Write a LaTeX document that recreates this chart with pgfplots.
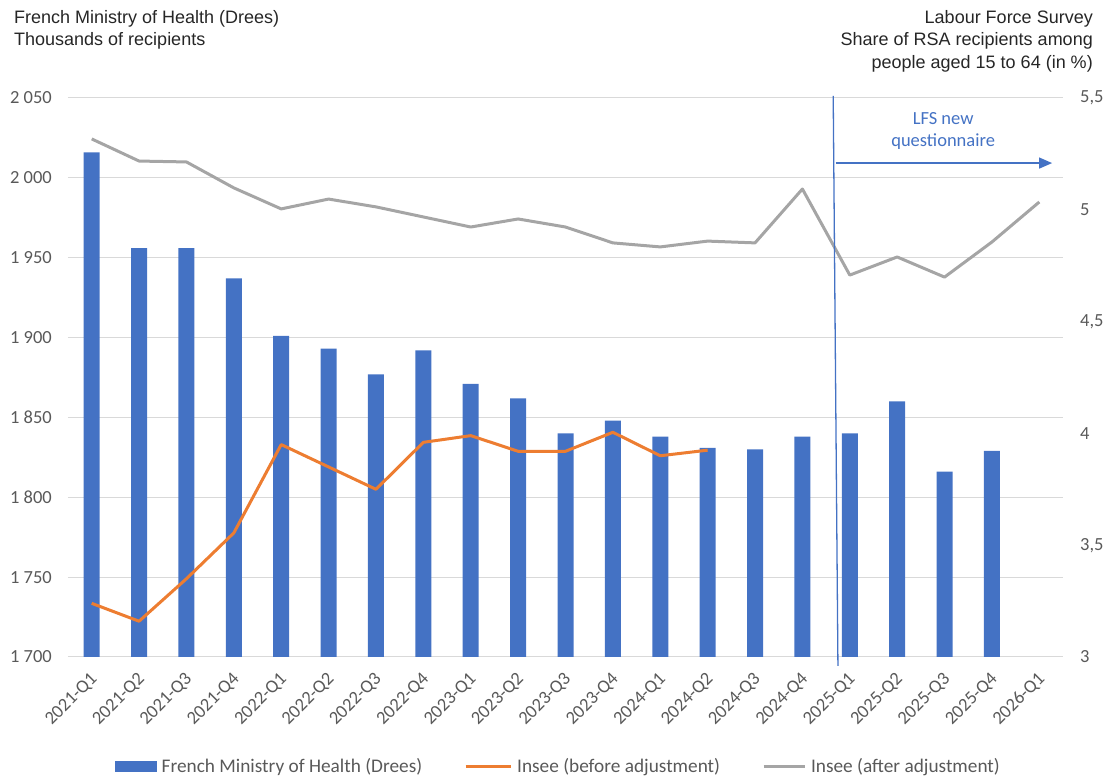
\documentclass[border=0pt]{standalone}
\usepackage{pgfplots}
\pgfplotsset{compat=1.18}
\usepackage{pgfplotstable}
\usepackage{fontspec}
\setmainfont{Carlito}
\newfontfamily\arialf{Liberation Sans}
\usetikzlibrary{arrows.meta}
\definecolor{barblue}{HTML}{4472C4}
\definecolor{lineorange}{HTML}{ED7D31}
\definecolor{linegray}{HTML}{A5A5A5}
\definecolor{gridgray}{HTML}{D9D9D9}
\definecolor{tickgray}{HTML}{595959}
\definecolor{titlecol}{HTML}{262626}

\pgfplotstableread{
x y
0 2016
1 1956
2 1956
3 1937
4 1901
5 1893
6 1877
7 1892
8 1871
9 1862
10 1840
11 1848
12 1838
13 1831
14 1830
15 1838
16 1840
17 1860
18 1816
19 1829
}\drees

\pgfplotstableread{
x y
0 3.24
1 3.16
2 3.35
3 3.555
4 3.95
5 3.85
6 3.75
7 3.96
8 3.99
9 3.92
10 3.92
11 4.005
12 3.90
13 3.925
}\before

\pgfplotstableread{
x y
0 5.317
1 5.218
2 5.214
3 5.098
4 5.004
5 5.048
6 5.013
7 4.968
8 4.923
9 4.959
10 4.923
11 4.852
12 4.834
13 4.860
14 4.852
15 5.093
16 4.708
17 4.789
18 4.699
19 4.856
20 5.035
}\after

\begin{document}
\begin{tikzpicture}
\pgfplotsset{
  common/.style={
    scale only axis, width=995pt, height=559pt,
    xmin=-0.5, xmax=20.5,
    major tick length=0pt,
    tick style={draw=none},
    axis line style={draw=none},
    tick label style={font=\fontsize{18.5}{22}\selectfont, text=tickgray},
  }
}
\begin{axis}[common,
  axis x line*=bottom, axis y line*=left,
  ymin=1700, ymax=2050,
  ytick={1700,1750,1800,1850,1900,1950,2000,2050},
  yticklabels={1 700,1 750,1 800,1 850,1 900,1 950,2 000,2 050},
  yticklabel style={anchor=east, inner sep=0pt, xshift=-16pt},
  ymajorgrids, grid style={draw=gridgray, line width=1pt},
  xtick={0,...,20},
  xticklabels={2021-Q1,2021-Q2,2021-Q3,2021-Q4,2022-Q1,2022-Q2,2022-Q3,2022-Q4,2023-Q1,2023-Q2,2023-Q3,2023-Q4,2024-Q1,2024-Q2,2024-Q3,2024-Q4,2025-Q1,2025-Q2,2025-Q3,2025-Q4,2026-Q1},
  xticklabel style={rotate=45, anchor=east, inner sep=0pt, xshift=4pt},
  xticklabel shift=22pt,
]
\addplot[ybar, bar width=16pt, bar shift=0pt, fill=barblue, draw=none] table[x=x,y=y] {\drees};
\end{axis}
\begin{axis}[common,
  axis y line*=right, axis x line=none,
  ymin=3, ymax=5.5,
  ytick={3,3.5,4,4.5,5,5.5},
  yticklabels={3,{3,5},4,{4,5},5,{5,5}},
  yticklabel style={anchor=west, inner sep=0pt, xshift=17pt},
  clip=false,
  legend style={at={(0.493,-0.195)}, anchor=center, draw=none, fill=none,
    font=\fontsize{19.3}{22}\selectfont, text=tickgray,
    legend columns=3,
    /tikz/every odd column/.append style={column sep=3pt},
    /tikz/every even column/.append style={column sep=40pt},
    legend cell align=left},
]
\addlegendimage{legend image code/.code={\fill[barblue] (0pt,-5pt) rectangle (41pt,5pt);}}
\addlegendentry{French Ministry of Health (Drees)}
\addplot[lineorange, line width=3pt, line join=round,
  legend image code/.code={\draw[lineorange, line width=3pt] (0pt,0pt) -- (45pt,0pt);}]
  table[x=x,y=y] {\before};
\addlegendentry{Insee (before adjustment)}
\addplot[linegray, line width=3pt, line join=round,
  legend image code/.code={\draw[linegray, line width=3pt] (0pt,0pt) -- (41pt,0pt);}]
  table[x=x,y=y] {\after};
\addlegendentry{Insee (after adjustment)}
\draw[barblue, line width=1.3pt] (axis cs:15.65,5.51) -- (axis cs:15.75,2.96);
\draw[barblue, line width=1.3pt, -{Triangle[length=13pt,width=11pt]}] (axis cs:15.7,5.209) -- (axis cs:20.27,5.209);
\node[text=barblue, align=center, font=\fontsize{18.5}{22.5}\selectfont] at (axis cs:17.97,5.352) {LFS new\\questionnaire};
\end{axis}
\node[anchor=north west, align=left, inner sep=0pt, text=titlecol, font=\arialf\fontsize{18}{22}\selectfont] at (-54pt,647pt) {French Ministry of Health (Drees)\\Thousands of recipients};
\node[anchor=north east, align=right, inner sep=0pt, text=titlecol, font=\arialf\fontsize{18}{22.5}\selectfont] at (1025pt,647pt) {Labour Force Survey\\Share of RSA recipients among\\people aged 15 to 64 (in \%)};
\path[use as bounding box] (-68pt,-119pt) rectangle (1040pt,657pt);
\end{tikzpicture}
\end{document}
